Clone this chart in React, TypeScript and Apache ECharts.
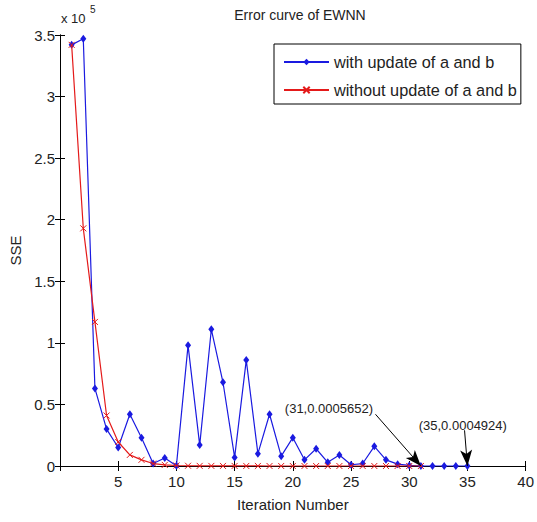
import React, { useEffect, useRef } from "react";
import * as echarts from "echarts";

const iterationsBlue = [1,2,3,4,5,6,7,8,9,10,11,12,13,14,15,16,17,18,19,20,21,22,23,24,25,26,27,28,29,30,31,32,33,34,35];
const sseWithUpdate = [342000,347000,63000,30000,15000,42000,23000,2000,6500,300,98000,17000,111000,68000,7000,86000,10000,42000,8000,23000,5000,14000,3000,9000,1000,2000,16000,5000,1500,500,0.0005652,0.0005,0.0005,0.0005,0.0004924];
const iterationsRed = [1,2,3,4,5,6,7,8,9,10,11,12,13,14,15,16,17,18,19,20,21,22,23,24,25,26,27,28,29,30,31];
const sseWithoutUpdate = [342000,193000,117000,41000,19500,9000,5000,2000,900,400,200,100,80,60,50,40,30,20,15,10,8,6,5,4,3,2,2,1,1,1,0.0005652];
const xTicks = [0, 40, 5];
const yTicks = [0, 350000, 50000];
const annotations = [
  { text: "(31,0.0005652)", label: [23.1, 47000], from: [27.1, 42000], to: [31, 0] },
  { text: "(35,0.0004924)", label: [34.6, 33000], from: [34.75, 29000], to: [35, 0] },
];

const FONT = "Liberation Sans, Arial, Helvetica, sans-serif";
const BLUE = "#1a1ae0";
const RED = "#e41a1a";

export default function App() {
  const ref = useRef<HTMLDivElement>(null);
  useEffect(() => {
    if (!ref.current) return;
    const chart = echarts.init(ref.current, null, { renderer: "svg" });
    const axisLine = { show: true, lineStyle: { color: "#000", width: 1 } };
    const tick = { show: true, inside: true, length: 5, lineStyle: { color: "#000" } };
    chart.setOption({
      animation: false,
      backgroundColor: "#fff",
      textStyle: { fontFamily: FONT },
      title: {
        text: "Error curve of EWNN",
        left: 295,
        textAlign: "center",
        top: 3,
        textStyle: { fontSize: 14, fontWeight: "normal", color: "#222", fontFamily: FONT },
      },
      grid: { left: 60, right: 6, top: 35, bottom: 56 },
      legend: {
        left: 274,
        top: 44,
        orient: "vertical",
        borderColor: "#000",
        borderWidth: 1,
        padding: [10, 4, 6, 9],
        itemGap: 12,
        itemWidth: 45,
        itemHeight: 8,
        textStyle: { fontSize: 16.3, color: "#222", fontFamily: FONT },
        data: ["with update of a and b", "without update of a and b"],
      },
      xAxis: [
        {
          type: "value",
          min: xTicks[0],
          max: xTicks[1],
          interval: xTicks[2],
          name: "Iteration Number",
          nameLocation: "middle",
          nameGap: 31,
          nameTextStyle: { fontSize: 15, color: "#222", fontFamily: FONT },
          axisLine,
          axisTick: tick,
          splitLine: { show: false },
          axisLabel: {
            fontSize: 15,
            color: "#222",
            margin: 8,
            formatter: (v: number) => (v === 0 ? "" : String(v)),
          },
        },
        {
          type: "value",
          position: "top",
          min: xTicks[0],
          max: xTicks[1],
          interval: xTicks[2],
          axisLine,
          axisTick: tick,
          splitLine: { show: false },
          axisLabel: { show: false },
        },
      ],
      yAxis: [
        {
          type: "value",
          min: yTicks[0],
          max: yTicks[1],
          interval: yTicks[2],
          name: "SSE",
          nameLocation: "middle",
          nameGap: 34,
          nameTextStyle: { fontSize: 15, color: "#222", fontFamily: FONT },
          axisLine,
          axisTick: tick,
          splitLine: { show: false },
          axisLabel: {
            fontSize: 15,
            color: "#222",
            margin: 5,
            formatter: (v: number) => String(v / 100000),
          },
        },
        {
          type: "value",
          position: "right",
          min: yTicks[0],
          max: yTicks[1],
          interval: yTicks[2],
          axisLine,
          axisTick: tick,
          splitLine: { show: false },
          axisLabel: { show: false },
        },
      ],
      graphic: [
        { type: "text", left: 61, top: 12, style: { text: "x 10", fontSize: 13, fill: "#222", fontFamily: FONT } },
        { type: "text", left: 90, top: 4, style: { text: "5", fontSize: 10, fill: "#222", fontFamily: FONT } },
      ],
      series: [
        {
          name: "with update of a and b",
          type: "line",
          data: iterationsBlue.map((x, i) => [x, sseWithUpdate[i]]),
          symbol: "diamond",
          symbolSize: [6, 8],
          showSymbol: true,
          lineStyle: { color: BLUE, width: 1.2 },
          itemStyle: { color: BLUE },
          z: 2,
          markLine: {
            silent: true,
            symbol: ["none", "arrow"],
            symbolSize: [9, 16],
            label: { show: false },
            lineStyle: { color: "#000", width: 1, type: "solid" },
            data: annotations.map((a) => [{ coord: a.from }, { coord: a.to }]),
          },
          markPoint: {
            silent: true,
            symbol: "circle",
            symbolSize: 1,
            itemStyle: { color: "rgba(0,0,0,0)" },
            label: { show: true, position: "inside", fontSize: 13, color: "#222", fontFamily: FONT },
            data: annotations.map((a) => ({ coord: a.label, value: a.text, label: { formatter: a.text } })),
          },
        },
        {
          name: "without update of a and b",
          type: "line",
          data: iterationsRed.map((x, i) => [x, sseWithoutUpdate[i]]),
          symbol: "path://M0,0L10,10M10,0L0,10",
          symbolSize: 6,
          showSymbol: true,
          lineStyle: { color: RED, width: 1.2 },
          itemStyle: { color: RED, borderColor: RED, borderWidth: 1 },
          z: 3,
        },
      ],
    });
    return () => chart.dispose();
  }, []);
  return (
    <div
      ref={ref}
      style={{ position: "fixed", left: 0, top: 0, width: 537, height: 522, background: "#fff" }}
    />
  );
}
